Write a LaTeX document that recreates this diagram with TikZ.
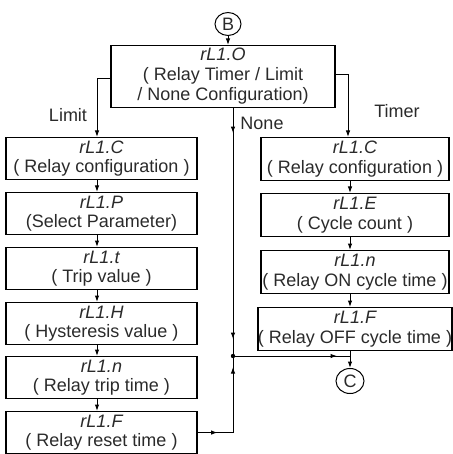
\documentclass[tikz,border=0pt]{standalone}
\usepackage{fontspec}
\setmainfont{Liberation Sans}
\usetikzlibrary{arrows.meta,decorations.markings,shapes.geometric}
\definecolor{txt}{HTML}{2A2A2A}
\begin{document}
\begin{tikzpicture}[x=1pt,y=-1pt,
  font=\fontsize{18}{19.5}\selectfont,
  >={Latex[length=6.5pt,width=4.5pt]},
  box/.style={draw, line width=1.1pt, inner sep=0pt, align=center, anchor=north, text=txt},
  lbox/.style={box, minimum width=191pt, minimum height=42pt},
  rbox/.style={box, minimum width=188pt, minimum height=43pt},
  conn/.style={line width=1pt},
  lbl/.style={text=txt, inner sep=0pt},
  circ/.style={draw, ellipse, line width=1pt, inner sep=0pt, text=txt},
  marks/.style={postaction={decorate}, decoration={markings, #1}}
]
\useasboundingbox (0,0) rectangle (452,454);

% connector circles
\node[circ, minimum width=26pt, minimum height=23pt] (b) at (228,24) {B};
\node[circ, minimum width=28pt, minimum height=25pt] (c) at (350,381) {C};

% top box
\node[box, minimum width=224pt, minimum height=62pt, font=\fontsize{18}{20}\selectfont] (top) at (223,45)
  {{\itshape rL1.O}\\( Relay Timer / Limit\\/ None Configuration)};

% left column (Limit)
\node[lbox] (lc) at (101.5,137) {{\itshape rL1.C}\\( Relay configuration )};
\node[lbox] (lp) at (101.5,192) {{\itshape rL1.P}\\(Select Parameter)};
\node[lbox] (lt) at (101.5,247) {{\itshape rL1.t}\\( Trip value )};
\node[lbox] (lh) at (101.5,302) {{\itshape rL1.H}\\( Hysteresis value )};
\node[lbox] (ln) at (101.5,356) {{\itshape rL1.n}\\( Relay trip time )};
\node[lbox] (lf) at (101.5,411) {{\itshape rL1.F}\\( Relay reset time )};

% right column (Timer)
\node[rbox] (rc) at (355,137) {{\itshape rL1.C}\\( Relay configuration )};
\node[rbox] (re) at (355,193) {{\itshape rL1.E}\\( Cycle count )};
\node[rbox] (rn) at (355,250) {{\itshape rL1.n}\\( Relay ON cycle time )};
\node[rbox] (rf) at (355,307) {{\itshape rL1.F}\\( Relay OFF cycle time )};

% branch labels
\node[lbl] (limit) at (68,115) {Limit};
\node[lbl] (none) at (262,123) {None};
\node[lbl] (timer) at (397,111) {Timer};

\coordinate (j) at (233,356);

% connectors
\draw[conn,->] (b) -- (b |- top.north);
\draw[conn,->] ([yshift=-2pt]top.west) -| ([xshift=-4.5pt]lc.north);
\draw[conn,->] ([yshift=2pt]top.east) -| ([xshift=-7pt]rc.north);

\foreach \a/\b in {lc/lp, lp/lt, lt/lh, lh/ln, ln/lf}
  \draw[conn,->] ([xshift=-4.5pt]\a.south) -- ([xshift=-4.5pt]\b.north);
\foreach \a/\b in {rc/re, re/rn, rn/rf}
  \draw[conn,->] ([xshift=-5pt]\a.south) -- ([xshift=-5pt]\b.north);
\draw[conn,->] ([xshift=-5pt]rf.south) -- (c.north);

\draw[conn, marks={mark=at position 25pt with {\arrow{>}}, mark=at position 231pt with {\arrow{>}}}]
  (j |- top.south) -- (j);
\draw[conn, marks={mark=at position 20pt with {\arrow{>}}, mark=at position 101pt with {\arrow{>}}}]
  (lf.east) -| (j);
\draw[conn, marks={mark=at position 104pt with {\arrow{>}}}] (j) -- (j -| c);
\fill (j) circle (2.2pt);
\end{tikzpicture}
\end{document}
